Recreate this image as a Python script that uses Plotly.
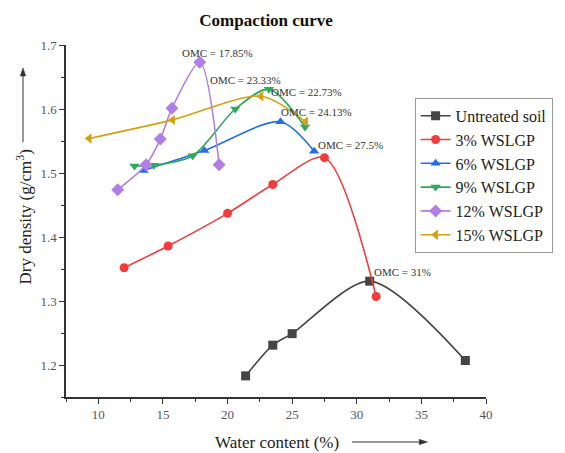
import plotly.graph_objects as go

# ---- data ----
series_names = ["Untreated soil", "3% WSLGP", "6% WSLGP", "9% WSLGP", "12% WSLGP", "15% WSLGP"]
untreated_x = [21.4, 23.5, 25.0, 31.0, 38.4]
untreated_y = [1.183, 1.231, 1.249, 1.331, 1.207]
w3_x = [12.0, 15.4, 20.0, 23.5, 27.5, 31.5]
w3_y = [1.352, 1.386, 1.437, 1.482, 1.524, 1.307]
w6_x = [13.5, 18.2, 24.1, 26.7]
w6_y = [1.504, 1.535, 1.580, 1.534]
w9_x = [12.8, 14.3, 17.3, 20.6, 23.2, 26.0]
w9_y = [1.511, 1.512, 1.527, 1.600, 1.631, 1.572]
w12_x = [11.5, 13.7, 14.8, 15.7, 17.85, 19.35]
w12_y = [1.474, 1.513, 1.553, 1.601, 1.673, 1.513]
w15_x = [9.3, 15.75, 22.6, 26.05]
w15_y = [1.554, 1.583, 1.620, 1.580]

omc_labels = ["OMC = 17.85%", "OMC = 23.33%", "OMC = 22.73%", "OMC = 24.13%", "OMC = 27.5%", "OMC = 31%"]
omc_x = [19.25, 21.4, 26.1, 26.9, 29.55, 33.55]
omc_y = [1.688, 1.645, 1.626, 1.596, 1.543, 1.345]

x_ticks = [10, 15, 20, 25, 30, 35, 40]
y_ticks = [1.2, 1.3, 1.4, 1.5, 1.6, 1.7]

colors = ["#454545", "#f23c3c", "#1f6fe6", "#2fa860", "#b07ee4", "#d2a010"]
symbols = ["square", "circle", "triangle-up", "triangle-down", "diamond", "triangle-left"]
xs = [untreated_x, w3_x, w6_x, w9_x, w12_x, w15_x]
ys = [untreated_y, w3_y, w6_y, w9_y, w12_y, w15_y]

FONT = "Liberation Serif"

fig = go.Figure()
for name, x, y, c, s in zip(series_names, xs, ys, colors, symbols):
    fig.add_trace(go.Scatter(
        x=x, y=y, name=name, mode="lines+markers",
        line=dict(color=c, width=1.6, shape="spline", smoothing=0.8),
        marker=dict(color=c, symbol=s, size=9 if s != "diamond" else 10),
    ))

for t, x, y in zip(omc_labels, omc_x, omc_y):
    fig.add_annotation(x=x, y=y, text=t, showarrow=False,
                       font=dict(family=FONT, size=11, color="#333333"))

# axis titles
fig.add_annotation(xref="paper", yref="paper", x=-0.1, y=0.51,
                   xanchor="center", yanchor="middle",
                   text="Dry density (g/cm<sup>3</sup>)", textangle=-90,
                   showarrow=False, font=dict(family=FONT, size=17, color="#222"))
fig.add_annotation(xref="paper", yref="paper", x=0.502, y=-0.128,
                   xanchor="center", yanchor="middle",
                   text="Water content (%)", showarrow=False,
                   font=dict(family=FONT, size=17, color="#222"))

# arrows drawn as shapes (paper coordinates)
ax_x = -0.1024
fig.add_shape(type="line", xref="paper", yref="paper",
              x0=ax_x, x1=ax_x, y0=0.724, y1=0.915,
              line=dict(color="#333", width=1))
fig.add_shape(type="path", xref="paper", yref="paper",
              path=f"M {ax_x-0.0065} 0.912 L {ax_x+0.0065} 0.912 L {ax_x} 0.935 Z",
              fillcolor="#333", line=dict(color="#333", width=0.5))
ay_y = -0.1278
fig.add_shape(type="line", xref="paper", yref="paper",
              x0=0.681, x1=0.845, y0=ay_y, y1=ay_y,
              line=dict(color="#333", width=1))
fig.add_shape(type="path", xref="paper", yref="paper",
              path=f"M 0.841 {ay_y-0.0075} L 0.841 {ay_y+0.0075} L 0.861 {ay_y} Z",
              fillcolor="#333", line=dict(color="#333", width=0.5))

axis_common = dict(showline=True, linecolor="#333", linewidth=1.5,
                   ticks="outside", ticklen=5, tickwidth=1.2, tickcolor="#333",
                   showgrid=False, zeroline=False,
                   tickfont=dict(family=FONT, size=13, color="#555"))

fig.update_xaxes(range=[7.5, 40], tickvals=x_ticks,
                 minor=dict(dtick=2.5, tick0=7.5, ticks="outside", ticklen=3, tickcolor="#333"),
                 **axis_common)
fig.update_yaxes(range=[1.15, 1.7], tickvals=y_ticks, tickformat=".1f",
                 minor=dict(dtick=0.05, tick0=1.15, ticks="outside", ticklen=3, tickcolor="#333"),
                 **axis_common)

fig.update_layout(
    width=565, height=453,
    margin=dict(l=66, r=79, t=45, b=56),
    paper_bgcolor="white", plot_bgcolor="white",
    title=dict(text="<b>Compaction curve</b>", x=0.471, xanchor="center",
               y=0.955, yanchor="middle", font=dict(family=FONT, size=17, color="#111")),
    legend=dict(x=0.83, y=0.85, xanchor="left", yanchor="top",
                bordercolor="#999", borderwidth=1, bgcolor="white",
                font=dict(family=FONT, size=16, color="#222"),
                tracegroupgap=0),
    showlegend=True,
)

fig.write_html("out.html")
